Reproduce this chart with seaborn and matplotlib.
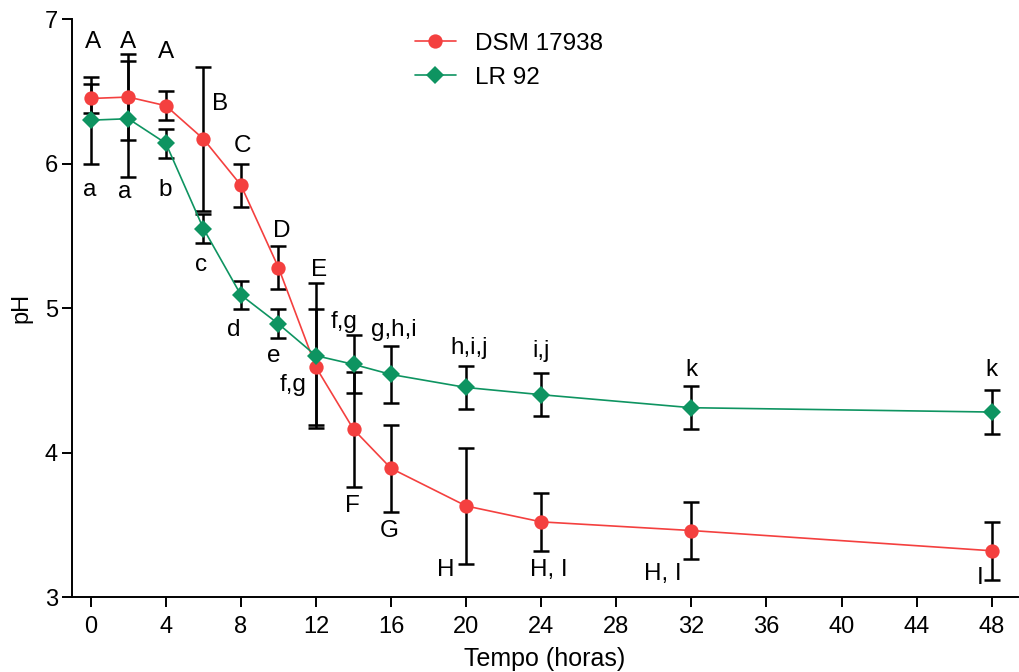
"""pH ao longo do tempo para DSM 17938 e LR 92."""

import matplotlib
matplotlib.use("Agg")
import matplotlib.pyplot as plt
import pandas as pd
import seaborn as sns

TIME_H = [0, 2, 4, 6, 8, 10, 12, 14, 16, 20, 24, 32, 48]

DSM_PH = [6.45, 6.46, 6.40, 6.17, 5.85, 5.28, 4.59, 4.16, 3.89, 3.63, 3.52, 3.46, 3.32]
DSM_ERR = [0.10, 0.30, 0.10, 0.50, 0.15, 0.15, 0.40, 0.40, 0.30, 0.40, 0.20, 0.20, 0.20]
LR_PH = [6.30, 6.31, 6.14, 5.55, 5.09, 4.89, 4.67, 4.61, 4.54, 4.45, 4.40, 4.31, 4.28]
LR_ERR = [0.30, 0.40, 0.10, 0.10, 0.10, 0.10, 0.50, 0.20, 0.20, 0.15, 0.15, 0.15, 0.15]

DSM_LETTERS = ["A", "A", "A", "B", "C", "D", "E", "F", "G", "H", "H, I", "H, I", "I"]
LR_LETTERS = ["a", "a", "b", "c", "d", "e", "f,g", "f,g", "g,h,i", "h,i,j", "i,j", "k", "k"]

# where the letters sit (data coordinates)
DSM_LETTER_X = [0.1, 1.97, 4.0, 6.87, 8.1, 10.18, 12.15, 13.96, 15.88, 18.91, 24.4, 30.5, 47.4]
DSM_LETTER_Y = [6.84, 6.84, 6.77, 6.41, 6.12, 5.53, 5.26, 3.63, 3.46, 3.19, 3.19, 3.16, 3.13]
LR_LETTER_X = [-0.05, 1.81, 3.94, 5.86, 7.62, 9.75, 10.76, 13.48, 16.14, 20.14, 23.97, 32.0, 48.0]
LR_LETTER_Y = [5.82, 5.80, 5.82, 5.30, 4.85, 4.67, 4.47, 4.90, 4.85, 4.72, 4.70, 4.57, 4.57]

STRAINS = ["DSM 17938", "LR 92"]
COLORS = {"DSM 17938": "#F4403F", "LR 92": "#0E9461"}
MARKERS = {"DSM 17938": "o", "LR 92": "D"}
MARKER_SIZE = {"o": 10.3, "D": 9.2}


def main() -> None:
    sns.set_style("ticks")
    plt.rcParams["font.family"] = ["Liberation Sans", "DejaVu Sans"]
    plt.rcParams.update({
        "text.color": "black",
        "axes.labelcolor": "black",
        "xtick.color": "black",
        "ytick.color": "black",
    })

    data = pd.concat([
        pd.DataFrame({"tempo": TIME_H, "pH": DSM_PH, "err": DSM_ERR, "cepa": STRAINS[0]}),
        pd.DataFrame({"tempo": TIME_H, "pH": LR_PH, "err": LR_ERR, "cepa": STRAINS[1]}),
    ], ignore_index=True)

    fig = plt.figure(figsize=(10.2, 6.72), dpi=100)
    ax = fig.add_axes([0.0706, 0.1116, 0.9274, 0.8601])

    for strain in STRAINS:
        sub = data[data["cepa"] == strain]
        ax.errorbar(sub["tempo"], sub["pH"], yerr=sub["err"], fmt="none",
                    ecolor="black", elinewidth=1.8, capsize=5.5, capthick=1.8, zorder=2)

    sns.lineplot(data=data, x="tempo", y="pH", hue="cepa", style="cepa",
                 palette=COLORS, markers=MARKERS, dashes=False, linewidth=1.2,
                 markersize=10, markeredgewidth=0, ax=ax, zorder=3)
    for line in ax.lines:
        if line.get_marker() in MARKER_SIZE:
            line.set_markersize(MARKER_SIZE[line.get_marker()])

    for i in range(len(TIME_H)):
        ax.text(DSM_LETTER_X[i], DSM_LETTER_Y[i], DSM_LETTERS[i], ha="center",
                va="center", fontsize=17.5)
        ax.text(LR_LETTER_X[i], LR_LETTER_Y[i], LR_LETTERS[i], ha="center",
                va="center", fontsize=17.5)

    handles, labels = ax.get_legend_handles_labels()
    for h in handles:
        if h.get_marker() in MARKER_SIZE:
            h.set_markersize(MARKER_SIZE[h.get_marker()])
            h.set_markeredgewidth(0)
    ax.legend(handles, labels, loc="upper left", bbox_to_anchor=(0.339, 1.014),
              frameon=False, fontsize=17.5, handlelength=1.7, labelspacing=0.5,
              handletextpad=0.8)

    ax.set_xlim(-1.0, 49.4)
    ax.set_ylim(3, 7)
    ax.set_xticks(range(0, 49, 4))
    ax.set_yticks([3, 4, 5, 6, 7])
    ax.tick_params(axis="both", direction="out", length=7, width=1.4, labelsize=17)
    ax.tick_params(axis="x", pad=7)
    ax.tick_params(axis="y", pad=3)
    ax.set_xlabel("Tempo (horas)", fontsize=18, labelpad=6)
    ax.set_ylabel("pH", fontsize=17, labelpad=9)
    for side in ["left", "bottom"]:
        ax.spines[side].set_linewidth(1.4)
        ax.spines[side].set_color("black")
    sns.despine(ax=ax)

    fig.savefig("out.png", dpi=100)
    plt.close(fig)


if __name__ == "__main__":
    main()
